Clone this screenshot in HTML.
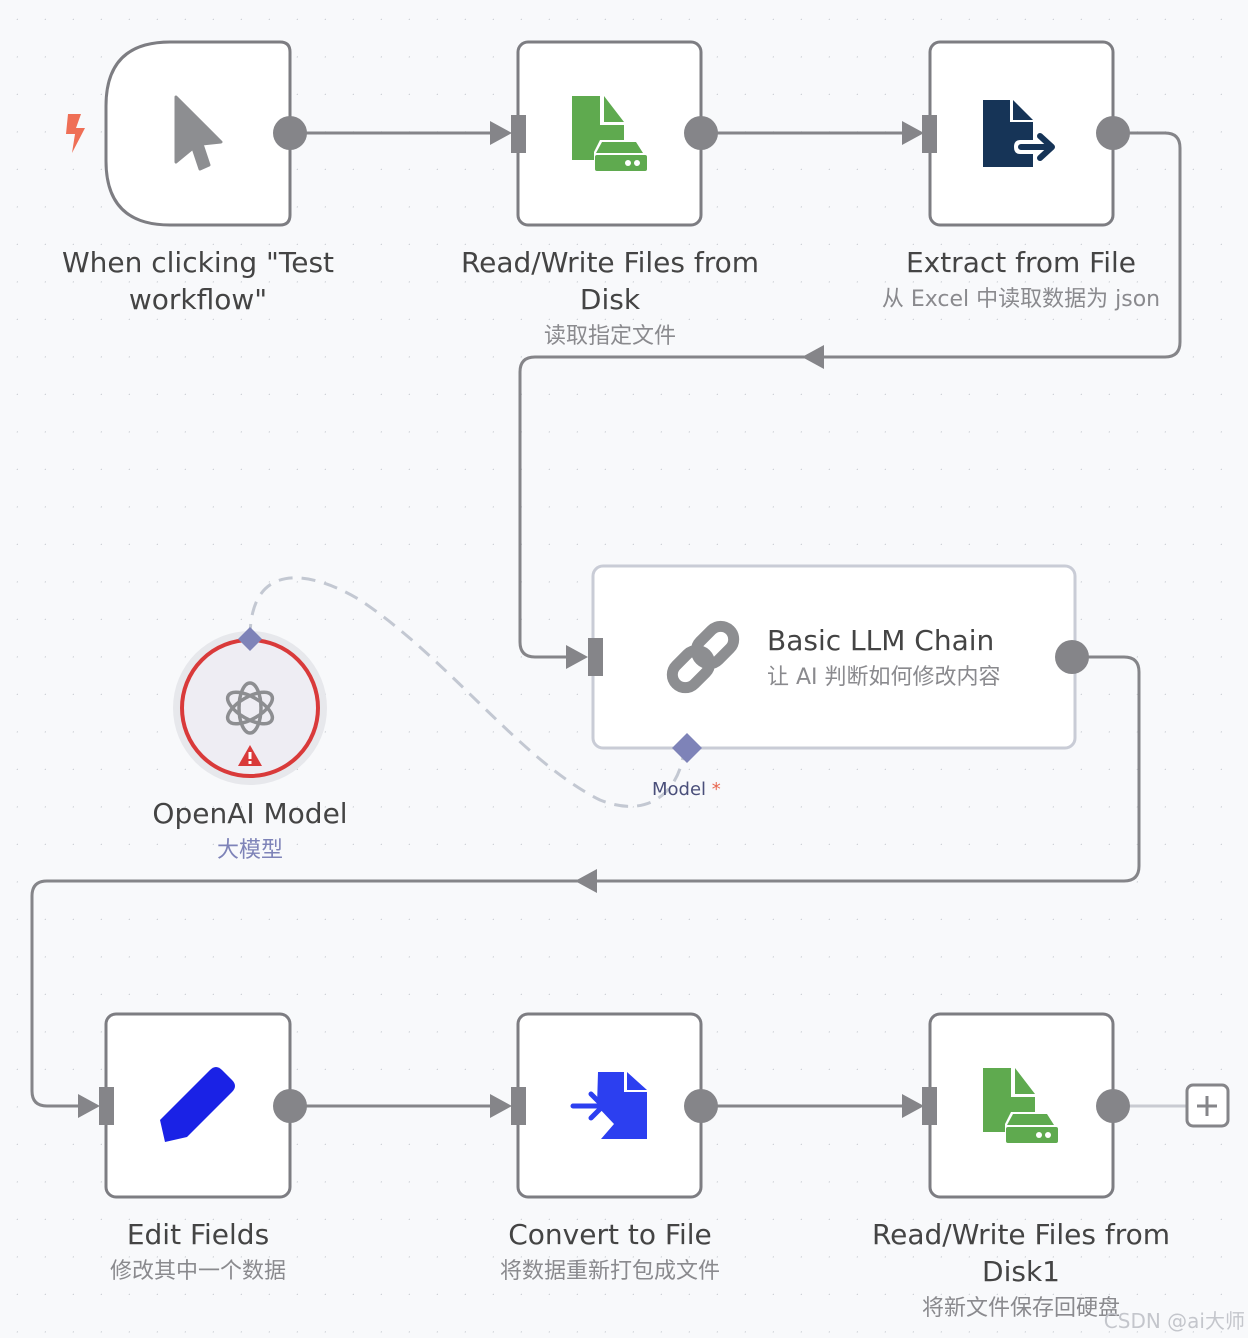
<!DOCTYPE html>
<html><head><meta charset="utf-8"><style>
html,body{margin:0;padding:0;background:#f8f9fb;}
svg{display:block}
text{font-family:"DejaVu Sans","Noto Sans CJK SC",sans-serif;}
</style></head><body>
<svg width="1248" height="1338" viewBox="0 0 1248 1338" xmlns="http://www.w3.org/2000/svg">
<defs>
<pattern id="dots" x="18" y="20" width="28" height="37.5" patternUnits="userSpaceOnUse">
<circle cx="28" cy="37.5" r="1.4" fill="#cfd2d8"/>
</pattern>
<g id="green">
<path d="M0 0 H28 V29 H52 V44 H28 L22 56 V64 H0 Z" fill="#5faa4f"/>
<path d="M32 0 L52 26 H32 Z" fill="#5faa4f"/>
<path d="M30 46 H64 L71 57 H24 Z" fill="#5faa4f"/>
<rect x="23" y="59" width="52" height="16" rx="2" fill="#5faa4f"/>
<circle cx="56" cy="67" r="3" fill="#fff"/><circle cx="65" cy="67" r="3" fill="#fff"/>
</g>
</defs>
<rect width="1248" height="1338" fill="url(#dots)"/>

<g stroke="#858589" stroke-width="3" fill="none">
<line x1="290" y1="133" x2="500" y2="133"/>
<line x1="701" y1="133" x2="912" y2="133"/>
<path d="M1113 133 H1165 Q1180 133 1180 148 V342 Q1180 357 1165 357 H535 Q520 357 520 372 V642 Q520 657 535 657 H576"/>
<path d="M1072 657 H1124 Q1139 657 1139 672 V866 Q1139 881 1124 881 H47 Q32 881 32 896 V1091 Q32 1106 47 1106 H88"/>
<line x1="290" y1="1106" x2="500" y2="1106"/>
<line x1="701" y1="1106" x2="912" y2="1106"/>
</g>
<line x1="1113" y1="1106" x2="1186" y2="1106" stroke="#c9cbd2" stroke-width="3"/>
<g fill="#858589">
<path d="M490 121 L512 133 L490 145Z"/><path d="M902 121 L924 133 L902 145Z"/>
<path d="M566 645 L588 657 L566 669Z"/><path d="M78 1094 L100 1106 L78 1118Z"/>
<path d="M490 1094 L512 1106 L490 1118Z"/><path d="M902 1094 L924 1106 L902 1118Z"/>
<path d="M824 345 L802 357 L824 369Z"/><path d="M597 869 L575 881 L597 893Z"/>
</g>
<path d="M250 638 C250 560 310 570 360 600 C450 660 520 760 600 800 C650 820 680 790 684 750" stroke="#c3c8d2" stroke-width="3" fill="none" stroke-dasharray="14 9"/>

<g stroke="#7d7d82" stroke-width="3" fill="#fff">
<path d="M170 42 H280 Q290 42 290 52 V215 Q290 225 280 225 H170 Q106 225 106 161 V106 Q106 42 170 42Z"/>
<rect x="518" y="42" width="183" height="183" rx="10"/>
<rect x="930" y="42" width="183" height="183" rx="10"/>
<rect x="106" y="1014" width="184" height="183" rx="10"/>
<rect x="518" y="1014" width="183" height="183" rx="10"/>
<rect x="930" y="1014" width="183" height="183" rx="10"/>
</g>
<rect x="593" y="566" width="482" height="182" rx="10" fill="#fff" stroke="#c9ccd6" stroke-width="3"/>

<g fill="#858589">
<circle cx="290" cy="133" r="17"/><circle cx="701" cy="133" r="17"/><circle cx="1113" cy="133" r="17"/>
<circle cx="1072" cy="657" r="17"/>
<circle cx="290" cy="1106" r="17"/><circle cx="701" cy="1106" r="17"/><circle cx="1113" cy="1106" r="17"/>
<rect x="511" y="115" width="15" height="38"/><rect x="922" y="115" width="15" height="38"/>
<rect x="588" y="638" width="15" height="38"/>
<rect x="99" y="1087" width="15" height="38"/><rect x="511" y="1087" width="15" height="38"/><rect x="922" y="1087" width="15" height="38"/>
</g>
<rect x="1187" y="1085" width="41" height="41" rx="6" fill="#fff" stroke="#858589" stroke-width="3"/>
<path d="M1207 1096 V1116 M1197 1106 H1217" stroke="#858589" stroke-width="3"/>

<path d="M68 114 H81 L76 128 H85 L72 153 L75 134 H66Z" fill="#ef6f56"/>
<path d="M176 97 L221 142 L202 144 L209 165 L200 169 L193 148 L176 162Z" fill="#8d8e91" stroke="#8d8e91" stroke-width="3" stroke-linejoin="round"/>
<use href="#green" x="572" y="96"/>
<use href="#green" x="983" y="1068"/>
<path d="M983 100 H1010 V122 H1033 V140 H1020 Q1014 140 1014 147 Q1014 154 1020 154 H1033 V167 H983Z" fill="#163457"/>
<path d="M1013 100 L1033 120 H1013Z" fill="#163457"/>
<path d="M1021 147 H1050 M1040 136 L1052 147 L1040 158" stroke="#163457" stroke-width="6" fill="none" stroke-linecap="round" stroke-linejoin="round"/>
<path d="M160 1120 L165 1142 L187 1137 L232 1092 Q238 1086 232 1080 L222 1070 Q216 1064 210 1070Z" fill="#1a22e6"/>
<path d="M598 1072 H624 V1092 H647 V1139 H601 L614 1124 L597 1106 Z" fill="#2c3ff0"/>
<path d="M627 1072 L647 1090 H627Z" fill="#2c3ff0"/>
<path d="M573 1106 H601 M591 1094 L603 1106 L591 1118" stroke="#2c3ff0" stroke-width="5" fill="none" stroke-linecap="round"/>
<g transform="translate(703 657) rotate(-45)" stroke="#8d8e91" stroke-width="11" fill="none">
<rect x="-38" y="-13" width="42" height="26" rx="13"/>
<rect x="-4" y="-13" width="42" height="26" rx="13"/>
</g>

<circle cx="250" cy="708" r="77" fill="#e7e8ec"/>
<circle cx="250" cy="708" r="68" fill="#eeedf3" stroke="#d93a3a" stroke-width="4"/>
<g transform="translate(250 708)" stroke="#8d8e91" stroke-width="3.5" fill="none">
<ellipse rx="11" ry="25"/><ellipse rx="11" ry="25" transform="rotate(60)"/><ellipse rx="11" ry="25" transform="rotate(120)"/>
</g>
<path d="M250 745 L262 766 H238Z" fill="#d93a3a"/>
<rect x="248.5" y="752" width="3" height="7" fill="#fff"/><rect x="248.5" y="761" width="3" height="3" fill="#fff"/>
<path d="M250 627 L262 639 L250 651 L238 639Z" fill="#7e83b8"/>
<path d="M687 733 L702 748 L687 763 L672 748Z" fill="#7e83b8"/>

<g font-size="28" fill="#444" text-anchor="middle">
<text x="198" y="272">When clicking "Test</text>
<text x="198" y="309">workflow"</text>
<text x="610" y="272">Read/Write Files from</text>
<text x="610" y="309">Disk</text>
<text x="1021" y="272">Extract from File</text>
<text x="250" y="823">OpenAI Model</text>
<text x="198" y="1244">Edit Fields</text>
<text x="610" y="1244">Convert to File</text>
<text x="1021" y="1244">Read/Write Files from</text>
<text x="1021" y="1281">Disk1</text>
</g>
<text x="767" y="650" font-size="28" fill="#444">Basic LLM Chain</text>
<g font-size="22" fill="#8a8a8e" text-anchor="middle">
<text x="610" y="343">读取指定文件</text>
<text x="1021" y="306">从 Excel 中读取数据为 json</text>
<text x="198" y="1278">修改其中一个数据</text>
<text x="610" y="1278">将数据重新打包成文件</text>
<text x="1021" y="1315">将新文件保存回硬盘</text>
</g>
<text x="767" y="684" font-size="22" fill="#8a8a8e">让 AI 判断如何修改内容</text>
<text x="250" y="857" font-size="22" fill="#7e83b8" text-anchor="middle">大模型</text>
<text x="652" y="795" font-size="18" fill="#4a4f7a">Model <tspan fill="#e8674f">*</tspan></text>
<text x="1245" y="1328" font-size="20" fill="#c4c6cc" text-anchor="end">CSDN @ai大师</text>
</svg>
</body></html>
